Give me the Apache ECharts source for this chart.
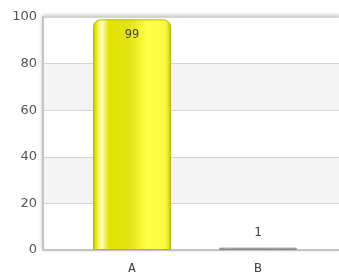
<!DOCTYPE html>
<html>
<head>
<meta charset="utf-8">
<script src="https://cdn.jsdelivr.net/npm/echarts@6/dist/echarts.min.js"></script>
<style>
  html, body { margin: 0; padding: 0; background: #fff; }
  #chart { width: 339px; height: 275px; }
</style>
</head>
<body>
<div id="chart"></div>
<script>
const categories = ['A', 'B']
const values = [99, 1]
const yTicks = [0, 20, 40, 60, 80, 100]

// bar colours per category (yellow for A, grey for B)
const barStyles = {
  A: {
    stops: ['#c4c400', '#eeee10', '#ffffd8', '#e4e400', '#e2e214', '#ffff48', '#fafa40', '#c8c800'],
    border: '#b8b800',
    radius: [7, 7, 0, 0]
  },
  B: {
    stops: ['#909090', '#b0b0b0', '#eeeeee', '#a8a8a8', '#a4a4a4', '#c4c4c4', '#bcbcbc', '#888888'],
    border: '#8a8a8a',
    radius: [2, 2, 2, 2]
  }
}
const stopPos = [0, 0.05, 0.11, 0.2, 0.45, 0.7, 0.93, 1]

const gradient = (stops) => ({
  type: 'linear', x: 0, y: 0, x2: 1, y2: 0,
  colorStops: stops.map((c, i) => ({ offset: stopPos[i], color: c }))
})

const barData = categories.map((name, i) => {
  const st = barStyles[name]
  return {
    value: values[i],
    itemStyle: {
      color: gradient(st.stops),
      borderColor: st.border,
      borderWidth: 1,
      borderRadius: st.radius
    },
    label: i === 0
      ? { position: 'insideTop', distance: 10, fontSize: 12 }
      : { position: 'top', distance: 9, fontSize: 13 }
  }
})

const myChart = echarts.init(document.getElementById('chart'))
const option = {
  animation: false,
  grid: [
    {
      left: 43, right: 0, top: 17, bottom: 25,
      show: true,
      backgroundColor: '#fff',
      borderColor: '#d4d4d4',
      borderWidth: 1,
      shadowColor: 'rgba(0,0,0,0.25)',
      shadowBlur: 4,
      shadowOffsetX: 0,
      shadowOffsetY: -1
    },
    { left: 69, right: 18, top: 17, bottom: 25 }
  ],
  xAxis: [
    {
      gridIndex: 0,
      type: 'category',
      data: [''],
      axisLine: { show: true, lineStyle: { color: '#c4c4c4', width: 2 } },
      axisTick: { show: false },
      axisLabel: { show: false }
    },
    {
      gridIndex: 1,
      type: 'category',
      data: categories,
      axisLine: { show: false },
      axisTick: { show: false },
      axisLabel: {
        margin: 12,
        color: '#444',
        fontFamily: 'DejaVu Sans Mono',
        fontSize: 13
      }
    }
  ],
  yAxis: [
    {
      gridIndex: 0,
      type: 'value',
      min: yTicks[0],
      max: yTicks[yTicks.length - 1],
      interval: 20,
      axisLine: { show: true, lineStyle: { color: '#c4c4c4', width: 2 } },
      axisTick: { show: false },
      axisLabel: {
        margin: 6,
        color: '#555',
        fontFamily: 'DejaVu Sans',
        fontSize: 13
      },
      splitLine: { show: true, lineStyle: { color: '#d4d4d4', width: 1 } },
      splitArea: { show: true, areaStyle: { color: ['#ffffff', '#f4f4f4'] } }
    },
    {
      gridIndex: 1,
      type: 'value',
      min: yTicks[0],
      max: yTicks[yTicks.length - 1],
      show: false
    }
  ],
  series: [
    {
      type: 'bar',
      xAxisIndex: 1,
      yAxisIndex: 1,
      barWidth: 78,
      data: barData,
      label: {
        show: true,
        color: '#444',
        fontFamily: 'DejaVu Sans Mono'
      }
    }
  ]
}
myChart.setOption(option)
</script>
</body>
</html>
